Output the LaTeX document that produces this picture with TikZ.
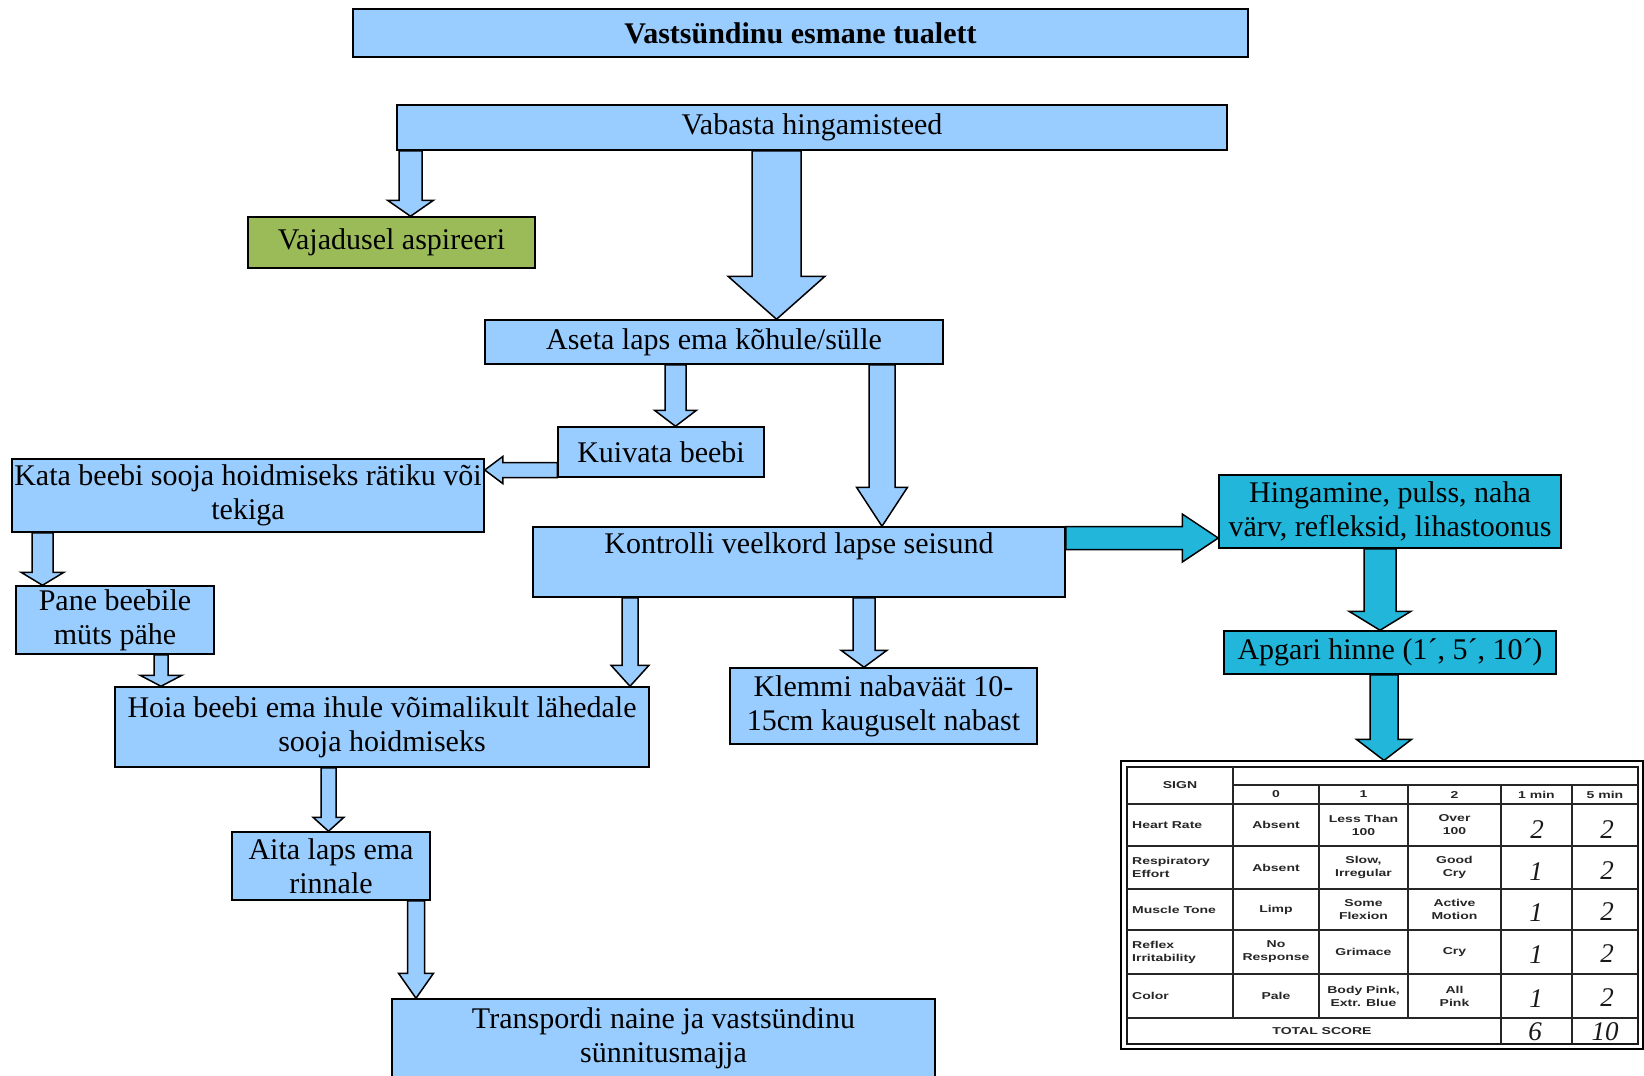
\documentclass[tikz,border=0pt]{standalone}
\usepackage{fontspec}
\setmainfont{Liberation Serif}
\newfontfamily\apgarfont[FakeStretch=1.4]{Liberation Sans}
\usetikzlibrary{calc}

\definecolor{flowblue}{RGB}{153,204,255}
\definecolor{flowteal}{RGB}{33,182,218}
\definecolor{flowgreen}{RGB}{155,187,89}

\tikzset{
  box/.style={draw=black, line width=1.5pt, fill=flowblue, inner sep=0pt,
    align=center, font=\fontsize{30}{34}\selectfont},
  tealbox/.style={box, fill=flowteal},
  greenbox/.style={box, fill=flowgreen},
  blockarrow/.style={draw=black, line width=1.5pt, fill=flowblue, line join=miter},
  tealarrow/.style={blockarrow, fill=flowteal},
  cell/.style={inner sep=0pt, align=center, text=black!85,
    font=\apgarfont\bfseries\fontsize{10}{13}\selectfont},
  rowhead/.style={cell, anchor=west, align=left},
  hand/.style={inner sep=0pt, text=black!90, font=\itshape\fontsize{27}{27}\selectfont},
  gridline/.style={line width=2pt, black!85},
}

% block arrow pointing down: from node, to node, x, shaft half width, head half width, head length, style
\newcommand\blockdown[7]{%
  \path[#7] let \p1=(#1.south), \p2=(#2.north), \p3=(#3,0) in
    ({\x3-#4pt},\y1) -- ({\x3+#4pt},\y1) -- ({\x3+#4pt},{\y2+#6pt})
    -- ({\x3+#5pt},{\y2+#6pt}) -- (\x3,\y2) -- ({\x3-#5pt},{\y2+#6pt})
    -- ({\x3-#4pt},{\y2+#6pt}) -- cycle;}
% block arrow pointing right: from node, to node, y, shaft half width, head half width, head length, style
\newcommand\blockright[7]{%
  \path[#7] let \p1=(#1.east), \p2=(#2.west), \p3=(0,#3) in
    (\x1,{\y3+#4pt}) -- ({\x2-#6pt},{\y3+#4pt}) -- ({\x2-#6pt},{\y3+#5pt})
    -- (\x2,\y3) -- ({\x2-#6pt},{\y3-#5pt}) -- ({\x2-#6pt},{\y3-#4pt})
    -- (\x1,{\y3-#4pt}) -- cycle;}
% block arrow pointing left
\newcommand\blockleft[7]{%
  \path[#7] let \p1=(#1.west), \p2=(#2.east), \p3=(0,#3) in
    (\x1,{\y3+#4pt}) -- ({\x2+#6pt},{\y3+#4pt}) -- ({\x2+#6pt},{\y3+#5pt})
    -- (\x2,\y3) -- ({\x2+#6pt},{\y3-#5pt}) -- ({\x2+#6pt},{\y3-#4pt})
    -- (\x1,{\y3-#4pt}) -- cycle;}

\begin{document}
\begin{tikzpicture}[x=1pt,y=-1pt]
\useasboundingbox (0,0) rectangle (1644,1076);
\fill[white] (0,0) rectangle (1644,1076);

% ---- flow boxes ----
\node[box, minimum width=895pt, minimum height=48pt, font=\fontsize{30}{34}\selectfont\bfseries]
  (title) at (800.5,33) {Vastsündinu esmane tualett};
\node[box, minimum width=830pt, minimum height=45pt] (vab) at (812,127.5) {Vabasta hingamisteed};
\node[greenbox, minimum width=287pt, minimum height=51pt] (vaj) at (391.5,242.5) {Vajadusel aspireeri};
\node[box, minimum width=458pt, minimum height=44pt] (ase) at (714,342) {Aseta laps ema kõhule/sülle};
\node[box, minimum width=206pt, minimum height=50pt] (kui) at (661,452) {Kuivata beebi};
\node[box, minimum width=472pt, minimum height=73pt] (kata) at (248,495.5)
  {Kata beebi sooja hoidmiseks rätiku või\\tekiga};
\node[box, minimum width=198pt, minimum height=68pt] (pane) at (115,620) {Pane beebile\\müts pähe};
\node[box, minimum width=534pt, minimum height=80pt] (hoia) at (382,727)
  {Hoia beebi ema ihule võimalikult lähedale\\sooja hoidmiseks};
\node[box, minimum width=198pt, minimum height=68pt] (aita) at (331,866) {Aita laps ema\\rinnale};
\node[box, minimum width=543pt, minimum height=79pt] (trans) at (663.5,1038.5)
  {Transpordi naine ja vastsündinu\\sünnitusmajja};
\node[box, minimum width=532pt, minimum height=70pt, text height=26pt, text depth=44pt]
  (kon) at (799,562) {Kontrolli veelkord lapse seisund};
\node[box, minimum width=307pt, minimum height=76pt] (kle) at (883.5,706)
  {Klemmi nabaväät 10-\\15cm kauguselt nabast};
\node[tealbox, minimum width=342pt, minimum height=73pt] (hin) at (1390,511.5)
  {Hingamine, pulss, naha\\värv, refleksid, lihastoonus};
\node[tealbox, minimum width=332pt, minimum height=43pt] (apg) at (1390,652.5)
  {Apgari hinne (1´, 5´, 10´)};

% ---- Apgar score table ----
\node[draw=black, line width=1.2pt, fill=white, minimum width=522pt, minimum height=288pt, inner sep=0pt]
  (tab) at (1382,905) {};
\draw[line width=2.6pt, black!90] (1127,767) rectangle (1638,1044);
\draw[gridline] (1233,767) -- (1233,1018);
\draw[gridline] (1319,785) -- (1319,1018);
\draw[gridline] (1408,785) -- (1408,1018);
\draw[gridline, line width=2.6pt] (1501,785) -- (1501,1044);
\draw[gridline] (1572,785) -- (1572,1044);
\draw[gridline, line width=1.6pt] (1233,785) -- (1638,785);
\foreach \yy in {804,846,889,930,974,1018}
  \draw[gridline] (1127,\yy) -- (1638,\yy);

\node[cell] (sign) at (1180,785.5) {SIGN};
\node[cell] (h0) at (1276,794.5) {0};
\node[cell] (h1) at (1363.5,794.5) {1};
\node[cell] (h2) at (1454.5,794.5) {2};
\node[cell] (h3) at (1536.5,794.5) {1 min};
\node[cell] (h4) at (1605,794.5) {5 min};

\node[rowhead] (r1) at (1132,825) {Heart Rate};
\node[cell] (r1a) at (1276,825) {Absent};
\node[cell] (r1b) at (1363.5,825) {Less Than\\100};
\node[cell] (r1c) at (1454.5,825) {Over\\100};
\node[hand] (r1d) at (1537,830) {2};
\node[hand] (r1e) at (1607,830) {2};

\node[rowhead] (r2) at (1132,867.5) {Respiratory\\Effort};
\node[cell] (r2a) at (1276,867.5) {Absent};
\node[cell] (r2b) at (1363.5,867.5) {Slow,\\Irregular};
\node[cell] (r2c) at (1454.5,867.5) {Good\\Cry};
\node[hand] (r2d) at (1536,872) {1};
\node[hand] (r2e) at (1607,871) {2};

\node[rowhead] (r3) at (1132,909.5) {Muscle Tone};
\node[cell] (r3a) at (1276,909.5) {Limp};
\node[cell] (r3b) at (1363.5,909.5) {Some\\Flexion};
\node[cell] (r3c) at (1454.5,909.5) {Active\\Motion};
\node[hand] (r3d) at (1536,913) {1};
\node[hand] (r3e) at (1607,912) {2};

\node[rowhead] (r4) at (1132,952) {Reflex\\Irritability};
\node[cell] (r4a) at (1276,952) {No\\Response};
\node[cell] (r4b) at (1363.5,952) {Grimace};
\node[cell] (r4c) at (1454.5,952) {Cry};
\node[hand] (r4d) at (1536,955) {1};
\node[hand] (r4e) at (1607,954) {2};

\node[rowhead] (r5) at (1132,996) {Color};
\node[cell] (r5a) at (1276,996) {Pale};
\node[cell] (r5b) at (1363.5,996) {Body Pink,\\Extr. Blue};
\node[cell] (r5c) at (1454.5,996) {All\\Pink};
\node[hand] (r5d) at (1536,999) {1};
\node[hand] (r5e) at (1607,998) {2};

\node[cell] (tot) at (1322,1031) {TOTAL SCORE};
\node[hand] (totd) at (1535,1032) {6};
\node[hand] (tote) at (1605,1032) {10};

% ---- block arrows ----
\blockdown{vab}{vaj}{410.5}{11.5}{23}{16}{blockarrow}
\blockdown{vab}{ase}{776.5}{24.5}{48.5}{43}{blockarrow}
\blockdown{ase}{kui}{675.5}{10.5}{21}{16}{blockarrow}
\blockdown{ase}{kon}{882}{13}{25.5}{39}{blockarrow}
\blockleft{kui}{kata}{470}{7.5}{13.5}{18}{blockarrow}
\blockdown{kata}{pane}{42.5}{10.5}{21.5}{13}{blockarrow}
\blockdown{pane}{hoia}{161}{7}{21}{11}{blockarrow}
\blockdown{kon}{hoia}{630}{8}{19}{21}{blockarrow}
\blockdown{kon}{kle}{864}{11}{23}{17}{blockarrow}
\blockdown{hoia}{aita}{328.5}{7.5}{15.5}{14}{blockarrow}
\blockdown{aita}{trans}{416}{8.5}{17.5}{25}{blockarrow}
\blockright{kon}{hin}{538}{11.5}{24}{36}{tealarrow}
\blockdown{hin}{apg}{1380}{16}{31}{19}{tealarrow}
\blockdown{apg}{tab}{1384}{14}{27.5}{21}{tealarrow}
\end{tikzpicture}
\end{document}
